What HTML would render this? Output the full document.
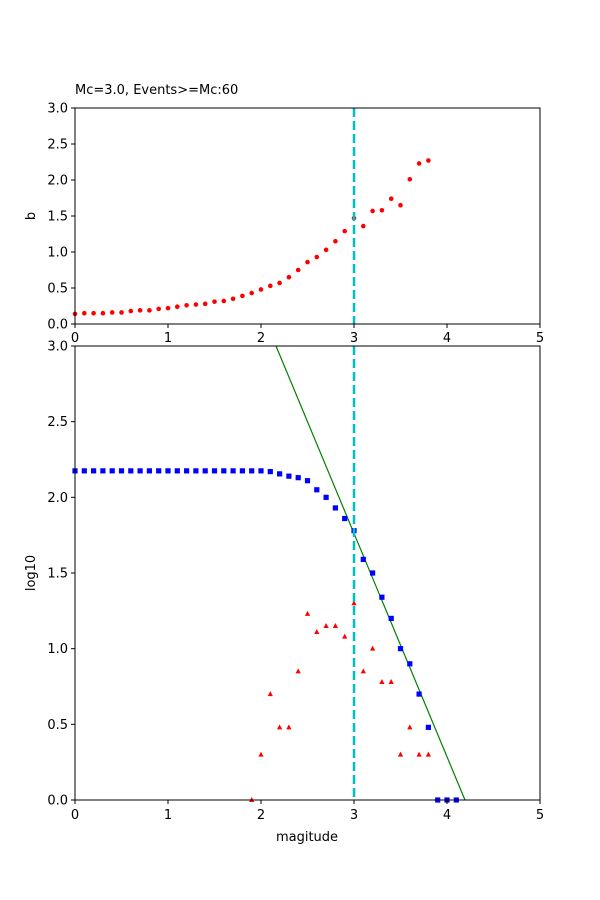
<!DOCTYPE html>
<html><head><meta charset="utf-8"><style>body{margin:0;background:#fff}svg{display:block;font-family:"DejaVu Sans","Liberation Sans",sans-serif}</style></head>
<body><svg id="s" width="600" height="900" xmlns="http://www.w3.org/2000/svg"></svg>
<script>
const s=document.getElementById('s');let h='';
const X=v=>75+v*93;
const T=v=>324-v*72, B=v=>800-v*151.33;
const b=[0.14,0.15,0.15,0.15,0.16,0.16,0.18,0.19,0.19,0.21,0.22,0.24,0.26,0.27,0.28,0.31,0.32,0.35,0.39,0.43,0.48,0.53,0.57,0.65,0.75,0.86,0.93,1.03,1.15,1.29,1.47,1.36,1.57,1.58,1.74,1.65,2.01,2.23,2.27];
b.forEach((v,i)=>h+=`<circle cx="${X(i*0.1)}" cy="${T(v)}" r="2.3" fill="red"/>`);
h+=`<line x1="354" y1="108" x2="354" y2="324" stroke="#00bfbf" stroke-width="2.5" stroke-dasharray="9,4"/>`;
h+=`<line x1="276" y1="346" x2="465" y2="800" stroke="green" stroke-width="1.2"/>`;
const bl=[];for(let i=0;i<=20;i++)bl.push([i/10,2.175]);
[[2.1,2.17],[2.2,2.155],[2.3,2.14],[2.4,2.13],[2.5,2.11],[2.6,2.05],[2.7,2.0],[2.8,1.93],[2.9,1.86],[3.0,1.78],[3.1,1.59],[3.2,1.5],[3.3,1.34],[3.4,1.2],[3.5,1.0],[3.6,0.9],[3.7,0.7],[3.8,0.48],[3.9,0],[4.0,0],[4.1,0]].forEach(p=>bl.push(p));
bl.forEach(p=>h+=`<rect x="${X(p[0])-2.6}" y="${B(p[1])-2.6}" width="5.2" height="5.2" fill="blue"/>`);
[[1.9,0],[2.0,0.3],[2.1,0.7],[2.2,0.48],[2.3,0.48],[2.4,0.85],[2.5,1.23],[2.6,1.11],[2.7,1.15],[2.8,1.15],[2.9,1.08],[3.0,1.3],[3.1,0.85],[3.2,1.0],[3.3,0.78],[3.4,0.78],[3.5,0.3],[3.6,0.48],[3.7,0.3],[3.8,0.3]].forEach(p=>{const x=X(p[0]),y=B(p[1]);h+=`<polygon points="${x},${y-3} ${x-2.6},${y+2} ${x+2.6},${y+2}" fill="red"/>`});
h+=`<line x1="354" y1="346" x2="354" y2="800" stroke="#00bfbf" stroke-width="2.5" stroke-dasharray="9,4"/>`;
h+=`<rect x="75" y="108" width="465" height="216" fill="none" stroke="#000" stroke-width="1"/>`;
h+=`<rect x="75" y="346" width="465" height="454" fill="none" stroke="#000" stroke-width="1"/>`;
for(let i=0;i<=5;i++){const x=X(i);
h+=`<line x1="${x}" y1="324" x2="${x}" y2="328" stroke="#000"/><text x="${x}" y="342" font-size="13" text-anchor="middle">${i}</text>`;
h+=`<line x1="${x}" y1="800" x2="${x}" y2="804" stroke="#000"/><text x="${x}" y="819" font-size="13" text-anchor="middle">${i}</text>`;}
for(let i=0;i<=6;i++){const v=i*0.5,y=T(v);h+=`<line x1="71" y1="${y}" x2="75" y2="${y}" stroke="#000"/><text x="68" y="${y+4.5}" font-size="13" text-anchor="end">${v.toFixed(1)}</text>`;
const y2=B(v);h+=`<line x1="71" y1="${y2}" x2="75" y2="${y2}" stroke="#000"/><text x="68" y="${y2+4.5}" font-size="13" text-anchor="end">${v.toFixed(1)}</text>`;}
h+=`<text x="75" y="94" font-size="13">Mc=3.0, Events&gt;=Mc:60</text>`;
h+=`<text transform="translate(35,216) rotate(-90)" font-size="13" text-anchor="middle">b</text>`;
h+=`<text transform="translate(35,573) rotate(-90)" font-size="13" text-anchor="middle">log10</text>`;
h+=`<text x="307" y="841" font-size="13" text-anchor="middle">magitude</text>`;
s.innerHTML=h;
</script></body></html>
